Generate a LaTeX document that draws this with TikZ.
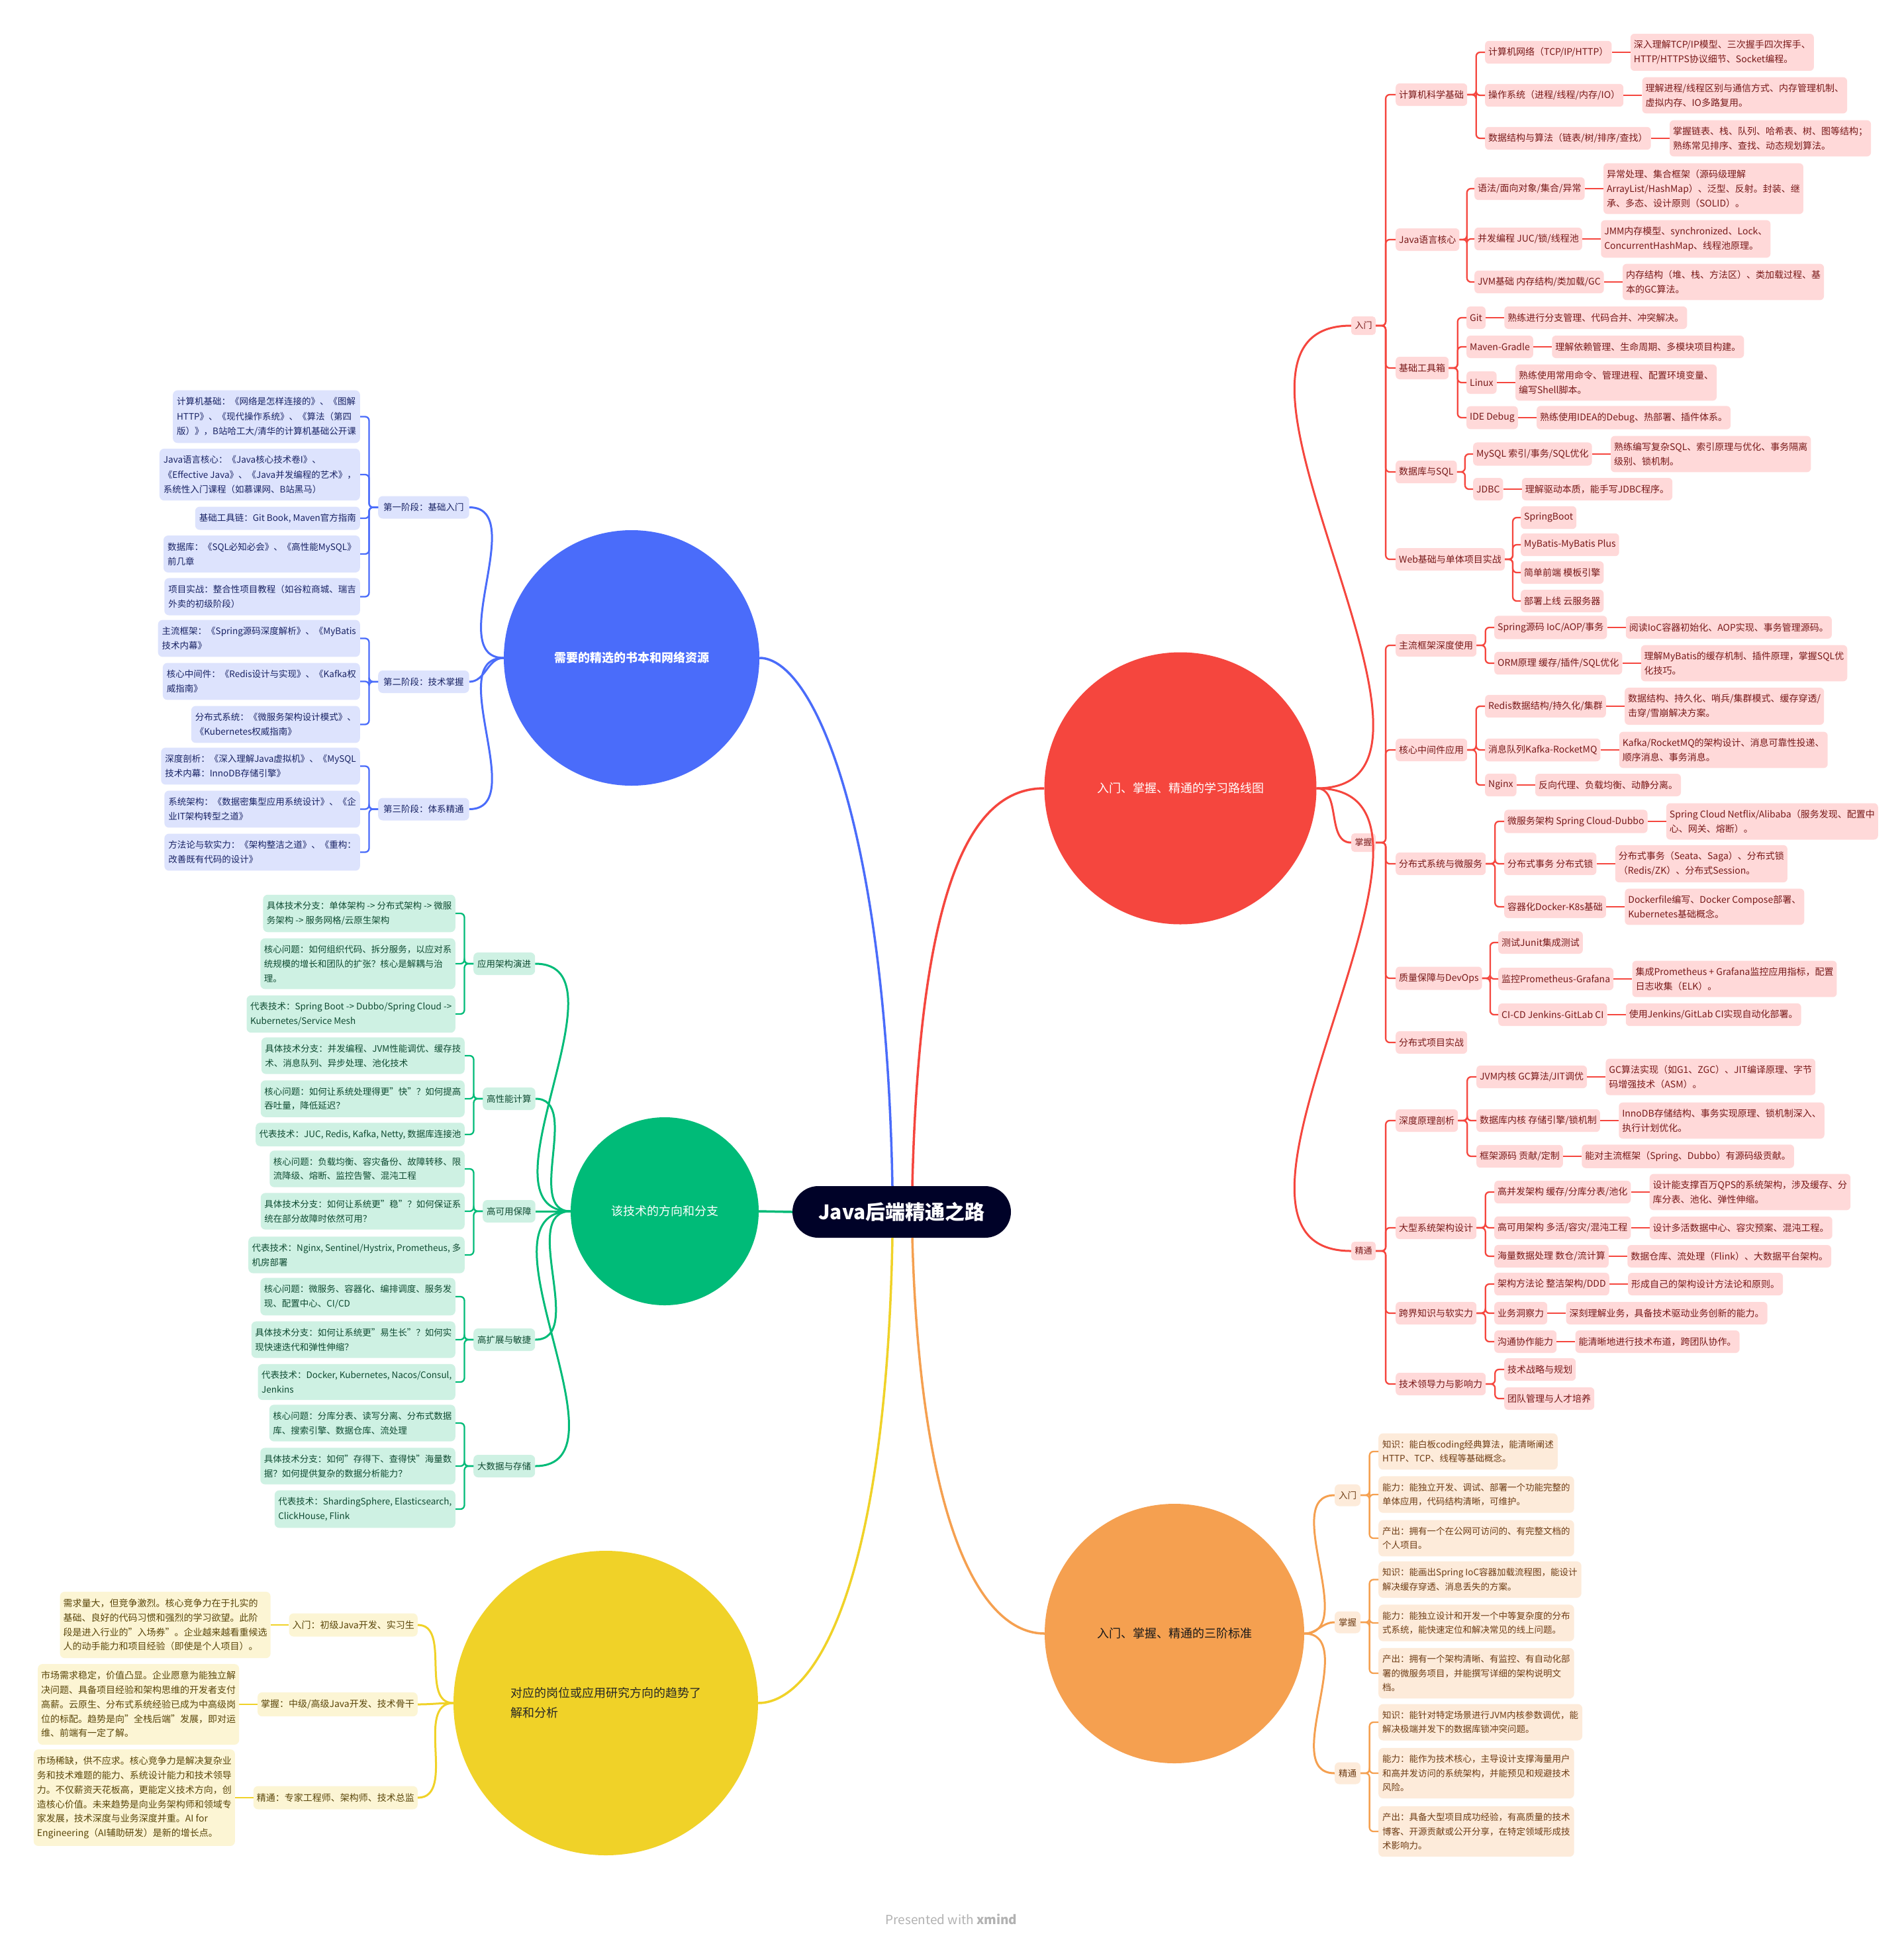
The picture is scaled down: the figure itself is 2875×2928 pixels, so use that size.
\documentclass[tikz,border=0pt]{standalone}
\usepackage{fontspec}
\setmainfont{Noto Sans CJK SC}
\usepackage{xcolor}
\usetikzlibrary{positioning, calc}

\definecolor{cRoot}{RGB}{0,2,40}
\definecolor{cRed}{RGB}{245,70,62}
\definecolor{cRedFill}{RGB}{255,217,217}
\definecolor{cRedText}{RGB}{120,25,25}
\definecolor{cBlue}{RGB}{74,108,250}
\definecolor{cBlueFill}{RGB}{221,227,253}
\definecolor{cBlueText}{RGB}{25,35,100}
\definecolor{cGreen}{RGB}{0,187,120}
\definecolor{cGreenFill}{RGB}{206,241,227}
\definecolor{cGreenText}{RGB}{15,75,50}
\definecolor{cOrange}{RGB}{245,160,80}
\definecolor{cOrangeFill}{RGB}{253,235,218}
\definecolor{cOrangeText}{RGB}{110,60,20}
\definecolor{cYellow}{RGB}{240,210,40}
\definecolor{cYellowFill}{RGB}{252,245,212}
\definecolor{cYellowText}{RGB}{90,70,10}

\newcommand\fRed{\fontsize{14}{21.7}\selectfont}
\newcommand\fBlue{\fontsize{13.5}{22.3}\selectfont}
\newcommand\fGreen{\fontsize{13.5}{21.7}\selectfont}
\newcommand\fOrange{\fontsize{13.5}{21.4}\selectfont}
\newcommand\fYellow{\fontsize{14}{21.7}\selectfont}
\newcommand\fHub{\fontsize{18}{30}\selectfont}
\newcommand\dq{\char"22\relax}

% bracket connector: parent anchor -> spine -> child anchor
\newcommand\bracket[3]{\draw[#1] (#2) -- ($(#2)!.5!(#3 |- #2)$) |- (#3);}

\tikzset{
  hub/.style={circle, inner sep=0pt, align=center, font=\fHub},
  rline/.style={draw=cRed, line width=2.3pt, rounded corners=6pt},
  bline/.style={draw=cBlue, line width=2.3pt, rounded corners=6pt},
  gline/.style={draw=cGreen, line width=2.3pt, rounded corners=6pt},
  oline/.style={draw=cOrange, line width=2.3pt, rounded corners=6pt},
  yline/.style={draw=cYellow, line width=2.3pt, rounded corners=6pt},
  rbox/.style={fill=cRedFill, text=cRedText, rounded corners=6pt, font=\fRed,
    align=left, inner xsep=5pt, inner ysep=10pt, minimum height=34pt, anchor=west},
  rtop/.style={fill=cRedFill, text=cRedText, rounded corners=5pt,
    font=\fontsize{13}{13}\selectfont, inner sep=2pt, minimum width=37pt, minimum height=28pt},
  bbox/.style={fill=cBlueFill, text=cBlueText, rounded corners=7pt, font=\fBlue,
    align=left, inner xsep=6pt, inner ysep=10.5pt, minimum height=34pt, anchor=east},
  bphase/.style={bbox, anchor=west, inner xsep=8pt},
  gbox/.style={fill=cGreenFill, text=cGreenText, rounded corners=7pt, font=\fGreen,
    align=left, inner xsep=5.5pt, inner ysep=10.5pt, minimum height=34pt, anchor=east},
  ggroup/.style={gbox, anchor=west, inner xsep=6pt},
  obox/.style={fill=cOrangeFill, text=cOrangeText, rounded corners=7pt, font=\fOrange,
    align=left, inner xsep=6pt, inner ysep=10.5pt, anchor=west},
  otop/.style={fill=cOrangeFill, text=cOrangeText, rounded corners=7pt, font=\fOrange,
    inner sep=2pt, minimum width=39pt, minimum height=33pt},
  ybox/.style={fill=cYellowFill, text=cYellowText, rounded corners=7pt, font=\fYellow,
    align=left, inner xsep=5pt, inner ysep=11pt},
  ytop/.style={ybox, anchor=east, minimum height=34pt}
}

\begin{document}
\begin{tikzpicture}[x=1pt, y=-1pt]
  \fill[white] (0,0) rectangle (2875,2928);
  \useasboundingbox (0,0) rectangle (2875,2928);

  % Central topic and the five main topics
  \node[fill=cRoot, text=white, rounded corners=39pt, minimum width=330pt, minimum height=78pt,
    font=\fontsize{30}{30}\selectfont\bfseries] (root) at (1362,1831) {Java后端精通之路};
  \node[hub, fill=cBlue, minimum size=386pt, text=white, font=\fHub\bfseries] (hubBlue) at (954,994) {需要的精选的书本和网络资源};
  \node[hub, fill=cRed, minimum size=411pt, text=white] (hubRed) at (1783,1191) {入门、掌握、精通的学习路线图};
  \node[hub, fill=cGreen, minimum size=284pt, text=white] (hubGreen) at (1004,1830) {该技术的方向和分支};
  \node[hub, fill=cOrange, minimum size=392pt, text=black!90] (hubOrange) at (1774,2468) {入门、掌握、精通的三阶标准};
  \node[hub, fill=cYellow, minimum size=460pt, text=black!85, align=left] (hubYellow) at (915,2573) {对应的岗位或应用研究方向的趋势了\\解和分析};

  \draw[draw=cBlue, line width=3.5pt] ([xshift=-14pt]root.north) .. controls (1338,1250) and (1230,994) .. (hubBlue.east);
  \draw[draw=cRed, line width=3.5pt] ([xshift=16pt]root.north) .. controls (1390,1300) and (1480,1191) .. (hubRed.west);
  \draw[draw=cGreen, line width=3.5pt] (root.west) -- (hubGreen.east);
  \draw[draw=cYellow, line width=3.5pt] ([xshift=-14pt]root.south) .. controls (1338,2400) and (1230,2573) .. (hubYellow.east);
  \draw[draw=cOrange, line width=3.5pt] ([xshift=16pt]root.south) .. controls (1390,2300) and (1480,2468) .. (hubOrange.west);

  % ---------------- Red: learning roadmap ----------------
  \node[rtop] (rIn) at (2059.5,492) {入门};
  \node[rtop] (rMa) at (2059.5,1273) {掌握};
  \node[rtop] (rJi) at (2059.5,1890) {精通};

  % 入门
  \node[rbox] (rA) at (2108,143) {计算机科学基础};
  \node[rbox] (rA1) at (2243,79) {计算机网络（TCP/IP/HTTP）};
  \node[rbox, right=28pt of rA1] (rA1-d) {深入理解TCP/IP模型、三次握手四次挥手、\\HTTP/HTTPS协议细节、Socket编程。};
  \node[rbox] (rA2) at (2243,144) {操作系统（进程/线程/内存/IO）};
  \node[rbox, right=28pt of rA2] (rA2-d) {理解进程/线程区别与通信方式、内存管理机制、\\虚拟内存、IO多路复用。};
  \node[rbox] (rA3) at (2243,209) {数据结构与算法（链表/树/排序/查找）};
  \node[rbox, right=28pt of rA3] (rA3-d) {掌握链表、栈、队列、哈希表、树、图等结构；\\熟练常见排序、查找、动态规划算法。};

  \node[rbox] (rB) at (2108,362) {Java语言核心};
  \node[rbox] (rB1) at (2227,285) {语法/面向对象/集合/异常};
  \node[rbox, right=28pt of rB1] (rB1-d) {异常处理、集合框架（源码级理解\\ArrayList/HashMap）、泛型、反射。封装、继\\承、多态、设计原则（SOLID）。};
  \node[rbox] (rB2) at (2227,361) {并发编程 JUC/锁/线程池};
  \node[rbox, right=28pt of rB2] (rB2-d) {JMM内存模型、synchronized、Lock、\\ConcurrentHashMap、线程池原理。};
  \node[rbox] (rB3) at (2227,426) {JVM基础 内存结构/类加载/GC};
  \node[rbox, right=28pt of rB3] (rB3-d) {内存结构（堆、栈、方法区）、类加载过程、基\\本的GC算法。};

  \node[rbox] (rC) at (2108,556) {基础工具箱};
  \node[rbox] (rC1) at (2215,480) {Git};
  \node[rbox, right=28pt of rC1] (rC1-d) {熟练进行分支管理、代码合并、冲突解决。};
  \node[rbox] (rC2) at (2215,524) {Maven-Gradle};
  \node[rbox, right=28pt of rC2] (rC2-d) {理解依赖管理、生命周期、多模块项目构建。};
  \node[rbox] (rC3) at (2215,578) {Linux};
  \node[rbox, right=28pt of rC3] (rC3-d) {熟练使用常用命令、管理进程、配置环境变量、\\编写Shell脚本。};
  \node[rbox] (rC4) at (2215,631) {IDE Debug};
  \node[rbox, right=28pt of rC4] (rC4-d) {熟练使用IDEA的Debug、热部署、插件体系。};

  \node[rbox] (rD) at (2108,713) {数据库与SQL};
  \node[rbox] (rD1) at (2225,686) {MySQL 索引/事务/SQL优化};
  \node[rbox, right=28pt of rD1] (rD1-d) {熟练编写复杂SQL、索引原理与优化、事务隔离\\级别、锁机制。};
  \node[rbox] (rD2) at (2225,739) {JDBC};
  \node[rbox, right=28pt of rD2] (rD2-d) {理解驱动本质，能手写JDBC程序。};

  \node[rbox] (rE) at (2108,845) {Web基础与单体项目实战};
  \node[rbox] (rE1) at (2297,782) {SpringBoot};
  \node[rbox] (rE2) at (2297,823) {MyBatis-MyBatis Plus};
  \node[rbox] (rE3) at (2297,865) {简单前端 模板引擎};
  \node[rbox] (rE4) at (2297,908) {部署上线 云服务器};

  % 掌握
  \node[rbox] (rF) at (2108,975) {主流框架深度使用};
  \node[rbox] (rF1) at (2257,948) {Spring源码 IoC/AOP/事务};
  \node[rbox, right=28pt of rF1] (rF1-d) {阅读IoC容器初始化、AOP实现、事务管理源码。};
  \node[rbox] (rF2) at (2257,1002) {ORM原理 缓存/插件/SQL优化};
  \node[rbox, right=28pt of rF2] (rF2-d) {理解MyBatis的缓存机制、插件原理，掌握SQL优\\化技巧。};

  \node[rbox] (rG) at (2108,1133) {核心中间件应用};
  \node[rbox] (rG1) at (2243,1067) {Redis数据结构/持久化/集群};
  \node[rbox, right=28pt of rG1] (rG1-d) {数据结构、持久化、哨兵/集群模式、缓存穿透/\\击穿/雪崩解决方案。};
  \node[rbox] (rG2) at (2243,1133) {消息队列Kafka-RocketMQ};
  \node[rbox, right=28pt of rG2] (rG2-d) {Kafka/RocketMQ的架构设计、消息可靠性投递、\\顺序消息、事务消息。};
  \node[rbox] (rG3) at (2243,1186) {Nginx};
  \node[rbox, right=28pt of rG3] (rG3-d) {反向代理、负载均衡、动静分离。};

  \node[rbox] (rH) at (2108,1305) {分布式系统与微服务};
  \node[rbox] (rH1) at (2272,1241) {微服务架构 Spring Cloud-Dubbo};
  \node[rbox, right=28pt of rH1] (rH1-d) {Spring Cloud Netflix/Alibaba（服务发现、配置中\\心、网关、熔断）。};
  \node[rbox] (rH2) at (2272,1305) {分布式事务 分布式锁};
  \node[rbox, right=28pt of rH2] (rH2-d) {分布式事务（Seata、Saga）、分布式锁\\（Redis/ZK）、分布式Session。};
  \node[rbox] (rH3) at (2272,1370) {容器化Docker-K8s基础};
  \node[rbox, right=28pt of rH3] (rH3-d) {Dockerfile编写、Docker Compose部署、\\Kubernetes基础概念。};

  \node[rbox] (rI) at (2108,1478) {质量保障与DevOps};
  \node[rbox] (rI1) at (2263,1424) {测试Junit集成测试};
  \node[rbox] (rI2) at (2263,1479) {监控Prometheus-Grafana};
  \node[rbox, right=28pt of rI2] (rI2-d) {集成Prometheus + Grafana监控应用指标，配置\\日志收集（ELK）。};
  \node[rbox] (rI3) at (2263,1533) {CI-CD Jenkins-GitLab CI};
  \node[rbox, right=28pt of rI3] (rI3-d) {使用Jenkins/GitLab CI实现自动化部署。};

  \node[rbox] (rJ) at (2108,1575) {分布式项目实战};

  % 精通
  \node[rbox] (rK) at (2108,1693) {深度原理剖析};
  \node[rbox] (rK1) at (2230,1627) {JVM内核 GC算法/JIT调优};
  \node[rbox, right=28pt of rK1] (rK1-d) {GC算法实现（如G1、ZGC）、JIT编译原理、字节\\码增强技术（ASM）。};
  \node[rbox] (rK2) at (2230,1693) {数据库内核 存储引擎/锁机制};
  \node[rbox, right=28pt of rK2] (rK2-d) {InnoDB存储结构、事务实现原理、锁机制深入、\\执行计划优化。};
  \node[rbox] (rK3) at (2230,1747) {框架源码 贡献/定制};
  \node[rbox, right=28pt of rK3] (rK3-d) {能对主流框架（Spring、Dubbo）有源码级贡献。};

  \node[rbox] (rL) at (2108,1855) {大型系统架构设计};
  \node[rbox] (rL1) at (2257,1801) {高并发架构 缓存/分库分表/池化};
  \node[rbox, right=28pt of rL1] (rL1-d) {设计能支撑百万QPS的系统架构，涉及缓存、分\\库分表、池化、弹性伸缩。};
  \node[rbox] (rL2) at (2257,1855) {高可用架构 多活/容灾/混沌工程};
  \node[rbox, right=28pt of rL2] (rL2-d) {设计多活数据中心、容灾预案、混沌工程。};
  \node[rbox] (rL3) at (2257,1898) {海量数据处理 数仓/流计算};
  \node[rbox, right=28pt of rL3] (rL3-d) {数据仓库、流处理（Flink）、大数据平台架构。};

  \node[rbox] (rM) at (2108,1984) {跨界知识与软实力};
  \node[rbox] (rM1) at (2257,1940) {架构方法论 整洁架构/DDD};
  \node[rbox, right=28pt of rM1] (rM1-d) {形成自己的架构设计方法论和原则。};
  \node[rbox] (rM2) at (2257,1984) {业务洞察力};
  \node[rbox, right=28pt of rM2] (rM2-d) {深刻理解业务，具备技术驱动业务创新的能力。};
  \node[rbox] (rM3) at (2257,2027) {沟通协作能力};
  \node[rbox, right=28pt of rM3] (rM3-d) {能清晰地进行技术布道，跨团队协作。};

  \node[rbox] (rN) at (2108,2091) {技术领导力与影响力};
  \node[rbox] (rN1) at (2272,2069) {技术战略与规划};
  \node[rbox] (rN2) at (2272,2113) {团队管理与人才培养};

  % red connectors
  \foreach \nn in {rIn,rMa,rJi}
    \draw[draw=cRed, line width=3pt] (hubRed.east) to[out=0,in=180] (\nn.west);
  \foreach \nn in {rA,rB,rC,rD,rE} {\bracket{rline}{rIn.east}{\nn.west}}
  \foreach \nn in {rF,rG,rH,rI,rJ} {\bracket{rline}{rMa.east}{\nn.west}}
  \foreach \nn in {rK,rL,rM,rN} {\bracket{rline}{rJi.east}{\nn.west}}
  \foreach \nn in {rA1,rA2,rA3} {\bracket{rline}{rA.east}{\nn.west}}
  \foreach \nn in {rB1,rB2,rB3} {\bracket{rline}{rB.east}{\nn.west}}
  \foreach \nn in {rC1,rC2,rC3,rC4} {\bracket{rline}{rC.east}{\nn.west}}
  \foreach \nn in {rD1,rD2} {\bracket{rline}{rD.east}{\nn.west}}
  \foreach \nn in {rE1,rE2,rE3,rE4} {\bracket{rline}{rE.east}{\nn.west}}
  \foreach \nn in {rF1,rF2} {\bracket{rline}{rF.east}{\nn.west}}
  \foreach \nn in {rG1,rG2,rG3} {\bracket{rline}{rG.east}{\nn.west}}
  \foreach \nn in {rH1,rH2,rH3} {\bracket{rline}{rH.east}{\nn.west}}
  \foreach \nn in {rI1,rI2,rI3} {\bracket{rline}{rI.east}{\nn.west}}
  \foreach \nn in {rK1,rK2,rK3} {\bracket{rline}{rK.east}{\nn.west}}
  \foreach \nn in {rL1,rL2,rL3} {\bracket{rline}{rL.east}{\nn.west}}
  \foreach \nn in {rM1,rM2,rM3} {\bracket{rline}{rM.east}{\nn.west}}
  \foreach \nn in {rN1,rN2} {\bracket{rline}{rN.east}{\nn.west}}
  \foreach \nn in {rA1,rA2,rA3,rB1,rB2,rB3,rC1,rC2,rC3,rC4,rD1,rD2,rF1,rF2,rG1,rG2,rG3,%
                   rH1,rH2,rH3,rI2,rI3,rK1,rK2,rK3,rL1,rL2,rL3,rM1,rM2,rM3}
    {\draw[rline] (\nn.east) -- (\nn-d.west);}

  % ---------------- Blue: books and resources ----------------
  \node[bphase] (bP1) at (571,766.5) {第一阶段：基础入门};
  \node[bphase] (bP2) at (571,1030) {第二阶段：技术掌握};
  \node[bphase] (bP3) at (571,1222.5) {第三阶段：体系精通};

  \node[bbox] (bA1) at (544,629.5) {计算机基础：《网络是怎样连接的》、《图解\\HTTP》、《现代操作系统》、《算法（第四\\版）》，B站哈工大/清华的计算机基础公开课};
  \node[bbox] (bA2) at (544,717) {Java语言核心：《Java核心技术卷I》、\\《Effective Java》、《Java并发编程的艺术》，\\系统性入门课程（如慕课网、B站黑马）};
  \node[bbox] (bA3) at (544,783) {基础工具链：Git Book, Maven官方指南};
  \node[bbox] (bA4) at (544,837) {数据库：《SQL必知必会》、《高性能MySQL》\\前几章};
  \node[bbox] (bA5) at (544,901.5) {项目实战：整合性项目教程（如谷粒商城、瑞吉\\外卖的初级阶段）};
  \node[bbox] (bB1) at (544,964.5) {主流框架：《Spring源码深度解析》、《MyBatis\\技术内幕》};
  \node[bbox] (bB2) at (544,1029.5) {核心中间件：《Redis设计与实现》、《Kafka权\\威指南》};
  \node[bbox] (bB3) at (544,1094.5) {分布式系统：《微服务架构设计模式》、\\《Kubernetes权威指南》};
  \node[bbox] (bC1) at (544,1157.5) {深度剖析：《深入理解Java虚拟机》、《MySQL\\技术内幕：InnoDB存储引擎》};
  \node[bbox] (bC2) at (544,1222.5) {系统架构：《数据密集型应用系统设计》、《企\\业IT架构转型之道》};
  \node[bbox] (bC3) at (544,1287.5) {方法论与软实力：《架构整洁之道》、《重构：\\改善既有代码的设计》};

  \foreach \nn in {bP1,bP2,bP3}
    \draw[draw=cBlue, line width=3pt] (hubBlue.west) to[out=180,in=0] (\nn.east);
  \foreach \nn in {bA1,bA2,bA3,bA4,bA5} {\bracket{bline}{bP1.west}{\nn.east}}
  \foreach \nn in {bB1,bB2,bB3} {\bracket{bline}{bP2.west}{\nn.east}}
  \foreach \nn in {bC1,bC2,bC3} {\bracket{bline}{bP3.west}{\nn.east}}

  % ---------------- Green: directions and branches ----------------
  \node[ggroup] (gG1) at (715,1456) {应用架构演进};
  \node[ggroup] (gG2) at (729,1660) {高性能计算};
  \node[ggroup] (gG3) at (729,1830) {高可用保障};
  \node[ggroup] (gG4) at (715,2024) {高扩展与敏捷};
  \node[ggroup] (gG5) at (715,2215) {大数据与存储};

  \node[gbox] (gA1) at (688,1380) {具体技术分支：单体架构 -> 分布式架构 -> 微服\\务架构 -> 服务网格/云原生架构};
  \node[gbox] (gA2) at (688,1456) {核心问题：如何组织代码、拆分服务，以应对系\\统规模的增长和团队的扩张？核心是解耦与治\\理。};
  \node[gbox] (gA3) at (688,1532) {代表技术：Spring Boot -> Dubbo/Spring Cloud ->\\Kubernetes/Service Mesh};
  \node[gbox] (gB1) at (702,1595) {具体技术分支：并发编程、JVM性能调优、缓存技\\术、消息队列、异步处理、池化技术};
  \node[gbox] (gB2) at (702,1660) {核心问题：如何让系统处理得更\dq 快\dq ？如何提高\\吞吐量，降低延迟？};
  \node[gbox] (gB3) at (702,1714) {代表技术：JUC, Redis, Kafka, Netty, 数据库连接池};
  \node[gbox] (gC1) at (702,1766) {核心问题：负载均衡、容灾备份、故障转移、限\\流降级、熔断、监控告警、混沌工程};
  \node[gbox] (gC2) at (702,1830) {具体技术分支：如何让系统更\dq 稳\dq ？如何保证系\\统在部分故障时依然可用？};
  \node[gbox] (gC3) at (702,1896) {代表技术：Nginx, Sentinel/Hystrix, Prometheus, 多\\机房部署};
  \node[gbox] (gD1) at (688,1959) {核心问题：微服务、容器化、编排调度、服务发\\现、配置中心、CI/CD};
  \node[gbox] (gD2) at (688,2024) {具体技术分支：如何让系统更\dq 易生长\dq ？如何实\\现快速迭代和弹性伸缩？};
  \node[gbox] (gD3) at (688,2088) {代表技术：Docker, Kubernetes, Nacos/Consul,\\Jenkins};
  \node[gbox] (gE1) at (688,2150) {核心问题：分库分表、读写分离、分布式数据\\库、搜索引擎、数据仓库、流处理};
  \node[gbox] (gE2) at (688,2215) {具体技术分支：如何\dq 存得下、查得快\dq 海量数\\据？如何提供复杂的数据分析能力？};
  \node[gbox] (gE3) at (688,2280) {代表技术：ShardingSphere, Elasticsearch,\\ClickHouse, Flink};

  \foreach \nn in {gG1,gG2,gG3,gG4,gG5}
    \draw[draw=cGreen, line width=3pt] (hubGreen.west) to[out=180,in=0] (\nn.east);
  \foreach \nn in {gA1,gA2,gA3} {\bracket{gline}{gG1.west}{\nn.east}}
  \foreach \nn in {gB1,gB2,gB3} {\bracket{gline}{gG2.west}{\nn.east}}
  \foreach \nn in {gC1,gC2,gC3} {\bracket{gline}{gG3.west}{\nn.east}}
  \foreach \nn in {gD1,gD2,gD3} {\bracket{gline}{gG4.west}{\nn.east}}
  \foreach \nn in {gE1,gE2,gE3} {\bracket{gline}{gG5.west}{\nn.east}}

  % ---------------- Orange: three-level standard ----------------
  \node[otop] (oL1) at (2035.5,2259) {入门};
  \node[otop] (oL2) at (2035.5,2451) {掌握};
  \node[otop] (oL3) at (2035.5,2679) {精通};

  \node[obox] (o11) at (2082,2193) {知识：能白板coding经典算法，能清晰阐述\\HTTP、TCP、线程等基础概念。};
  \node[obox] (o12) at (2082,2258) {能力：能独立开发、调试、部署一个功能完整的\\单体应用，代码结构清晰，可维护。};
  \node[obox] (o13) at (2082,2324) {产出：拥有一个在公网可访问的、有完整文档的\\个人项目。};
  \node[obox] (o21) at (2082,2386.5) {知识：能画出Spring IoC容器加载流程图，能设计\\解决缓存穿透、消息丢失的方案。};
  \node[obox] (o22) at (2082,2452) {能力：能独立设计和开发一个中等复杂度的分布\\式系统，能快速定位和解决常见的线上问题。};
  \node[obox] (o23) at (2082,2528) {产出：拥有一个架构清晰、有监控、有自动化部\\署的微服务项目，并能撰写详细的架构说明文\\档。};
  \node[obox] (o31) at (2082,2602) {知识：能针对特定场景进行JVM内核参数调优，能\\解决极端并发下的数据库锁冲突问题。};
  \node[obox] (o32) at (2082,2679) {能力：能作为技术核心，主导设计支撑海量用户\\和高并发访问的系统架构，并能预见和规避技术\\风险。};
  \node[obox] (o33) at (2082,2767) {产出：具备大型项目成功经验，有高质量的技术\\博客、开源贡献或公开分享，在特定领域形成技\\术影响力。};

  \foreach \nn in {oL1,oL2,oL3}
    \draw[draw=cOrange, line width=3pt] (hubOrange.east) to[out=0,in=180] (\nn.west);
  \foreach \nn in {o11,o12,o13} {\bracket{oline}{oL1.east}{\nn.west}}
  \foreach \nn in {o21,o22,o23} {\bracket{oline}{oL2.east}{\nn.west}}
  \foreach \nn in {o31,o32,o33} {\bracket{oline}{oL3.east}{\nn.west}}

  % ---------------- Yellow: jobs and trends ----------------
  \node[ytop] (yL1) at (631,2455) {入门：初级Java开发、实习生};
  \node[ytop] (yL2) at (631,2575) {掌握：中级/高级Java开发、技术骨干};
  \node[ytop] (yL3) at (631,2716) {精通：专家工程师、架构师、技术总监};
  \node[ybox, left=27.5pt of yL1] (yL1-d) {需求量大，但竞争激烈。核心竞争力在于扎实的\\基础、良好的代码习惯和强烈的学习欲望。此阶\\段是进入行业的\dq 入场券\dq 。企业越来越看重候选\\人的动手能力和项目经验（即使是个人项目）。};
  \node[ybox, left=27.5pt of yL2] (yL2-d) {市场需求稳定，价值凸显。企业愿意为能独立解\\决问题、具备项目经验和架构思维的开发者支付\\高薪。云原生、分布式系统经验已成为中高级岗\\位的标配。趋势是向\dq 全栈后端\dq 发展，即对运\\维、前端有一定了解。};
  \node[ybox, left=27.5pt of yL3] (yL3-d) {市场稀缺，供不应求。核心竞争力是解决复杂业\\务和技术难题的能力、系统设计能力和技术领导\\力。不仅薪资天花板高，更能定义技术方向，创\\造核心价值。未来趋势是向业务架构师和领域专\\家发展，技术深度与业务深度并重。AI for\\Engineering（AI辅助研发）是新的增长点。};

  \foreach \nn in {yL1,yL2,yL3} {
    \draw[draw=cYellow, line width=3pt] (hubYellow.west) to[out=180,in=0] (\nn.east);
    \draw[yline] (\nn.west) -- (\nn-d.east);
  }

  % footer
  \node[text=black!30, font=\fontsize{19}{19}\selectfont] (foot) at (1437,2900) {Presented with \textbf{xmind}};
\end{tikzpicture}
\end{document}
